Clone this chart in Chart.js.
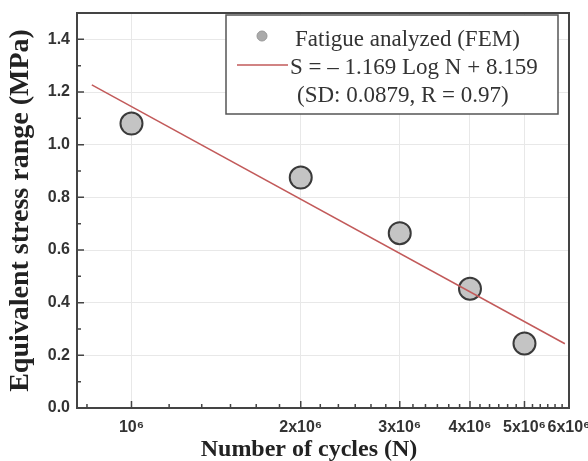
<!DOCTYPE html>
<html>
<head>
<meta charset="utf-8">
<script src="https://cdn.jsdelivr.net/npm/chart.js@4/dist/chart.umd.min.js"></script>
<style>
  html, body { margin: 0; padding: 0; background: #fff; }
  #wrap { width: 588px; height: 461px; position: relative; }
</style>
</head>
<body>
<div id="wrap"><canvas id="c" width="588" height="461"></canvas></div>
<script>
// ---- data ----
const cycles = [1e6, 2e6, 3e6, 4e6, 5e6];
const stress = [1.08, 0.875, 0.664, 0.453, 0.245];
const fitCycles = [8.5e5, 5.9e6];
const fitStress = [1.227, 0.244];
const xMajorTicks = [1e6, 2e6, 3e6, 4e6, 5e6, 6e6];
const xTickLabels = ['10\u2076', '2x10\u2076', '3x10\u2076', '4x10\u2076', '5x10\u2076', '6x10\u2076'];
const yMajorTicks = [0, 0.2, 0.4, 0.6, 0.8, 1.0, 1.2, 1.4];
const yMinorTicks = [0.1, 0.3, 0.5, 0.7, 0.9, 1.1, 1.3];
const xMinorTicks = [];
for (let n = 5; n <= 35; n++) { if (n % 6 !== 0) xMinorTicks.push(n * 1e6 / 6); }
const legendLines = ['Fatigue analyzed (FEM)', 'S = \u2013 1.169 Log N + 8.159', '(SD: 0.0879, R = 0.97)'];
const xTitle = 'Number of cycles (N)';
const yTitle = 'Equivalent stress range (MPa)';

const AXIS = '#444';
const FIT = '#c25a5a';

const decor = {
  id: 'decor',
  afterDatasetsDraw(chart) {
    const {ctx, chartArea: a, scales: {x, y}} = chart;
    ctx.save();
    // frame (top & right)
    ctx.strokeStyle = AXIS; ctx.lineWidth = 2;
    ctx.beginPath();
    ctx.moveTo(a.left, a.top); ctx.lineTo(a.right, a.top); ctx.lineTo(a.right, a.bottom);
    ctx.stroke();
    // inward ticks
    ctx.lineWidth = 1.5;
    ctx.beginPath();
    xMajorTicks.forEach(v => { const px = x.getPixelForValue(v); ctx.moveTo(px, a.bottom); ctx.lineTo(px, a.bottom - 7); });
    xMinorTicks.forEach(v => { const px = x.getPixelForValue(v); ctx.moveTo(px, a.bottom); ctx.lineTo(px, a.bottom - 4); });
    yMajorTicks.forEach(v => { const py = y.getPixelForValue(v); ctx.moveTo(a.left, py); ctx.lineTo(a.left + 7, py); });
    yMinorTicks.forEach(v => { const py = y.getPixelForValue(v); ctx.moveTo(a.left, py); ctx.lineTo(a.left + 4, py); });
    ctx.stroke();
    // legend box
    ctx.fillStyle = '#fff';
    ctx.fillRect(226, 15, 332, 99);
    ctx.strokeStyle = '#555'; ctx.lineWidth = 1.5;
    ctx.strokeRect(226, 15, 332, 99);
    ctx.beginPath(); ctx.arc(262, 36, 5, 0, Math.PI * 2);
    ctx.fillStyle = '#aaa'; ctx.fill();
    ctx.strokeStyle = '#999'; ctx.lineWidth = 1; ctx.stroke();
    ctx.beginPath(); ctx.moveTo(237, 65); ctx.lineTo(288, 65);
    ctx.strokeStyle = FIT; ctx.lineWidth = 1.5; ctx.stroke();
    ctx.fillStyle = '#333';
    ctx.font = '23px "Liberation Serif"';
    ctx.textBaseline = 'alphabetic'; ctx.textAlign = 'left';
    ctx.fillText(legendLines[0], 295, 46);
    ctx.fillText(legendLines[1], 290, 74);
    ctx.fillText(legendLines[2], 297, 102);
    // x title
    ctx.font = 'bold 24px "Liberation Serif"';
    ctx.fillStyle = '#222';
    ctx.textAlign = 'center';
    ctx.fillText(xTitle, 309, 456);
    ctx.restore();
  }
};

new Chart(document.getElementById('c'), {
  type: 'scatter',
  data: {
    datasets: [
      {
        type: 'line',
        data: fitCycles.map((v, i) => ({x: v, y: fitStress[i]})),
        borderColor: FIT, borderWidth: 1.5, pointRadius: 0, fill: false, order: 0
      },
      {
        data: cycles.map((v, i) => ({x: v, y: stress[i]})),
        pointRadius: 11, pointBackgroundColor: '#c4c4c4',
        pointBorderColor: '#3a3a3a', pointBorderWidth: 2, order: 1
      }
    ]
  },
  options: {
    responsive: false,
    animation: false,
    devicePixelRatio: 1,
    layout: { padding: { top: 11, right: 19, left: 0, bottom: 0 } },
    plugins: { legend: { display: false }, tooltip: { enabled: false } },
    scales: {
      x: {
        type: 'logarithmic', min: 8e5, max: 6e6,
        afterBuildTicks(s) { s.ticks = xMajorTicks.map(v => ({value: v})); },
        afterFit(s) { s.height = 53; s.paddingLeft = 0; s.paddingRight = 0; },
        ticks: {
          autoSkip: false, maxRotation: 0, minRotation: 0, padding: 10,
          color: '#333', font: { family: 'Liberation Sans', weight: 'bold', size: 16 },
          callback(v) { const i = xMajorTicks.indexOf(v); return i >= 0 ? xTickLabels[i] : ''; }
        },
        grid: { color: '#e8e8e8', lineWidth: 1, drawTicks: false },
        border: { display: true, color: AXIS, width: 2 }
      },
      y: {
        type: 'linear', min: 0, max: 1.5,
        afterBuildTicks(s) { s.ticks = yMajorTicks.map(v => ({value: v})); },
        afterFit(s) { s.width = 77; s.paddingTop = 0; s.paddingBottom = 0; },
        ticks: {
          padding: 7, color: '#333',
          font: { family: 'Liberation Sans', weight: 'bold', size: 16 },
          callback(v) { return Number(v).toFixed(1); }
        },
        title: {
          display: true, text: yTitle, color: '#222',
          font: { family: 'Liberation Serif', weight: 'bold', size: 28 },
          padding: { top: 4, bottom: 0 }
        },
        grid: { color: '#e8e8e8', lineWidth: 1, drawTicks: false },
        border: { display: true, color: AXIS, width: 2 }
      }
    }
  },
  plugins: [decor]
});
</script>
</body>
</html>
